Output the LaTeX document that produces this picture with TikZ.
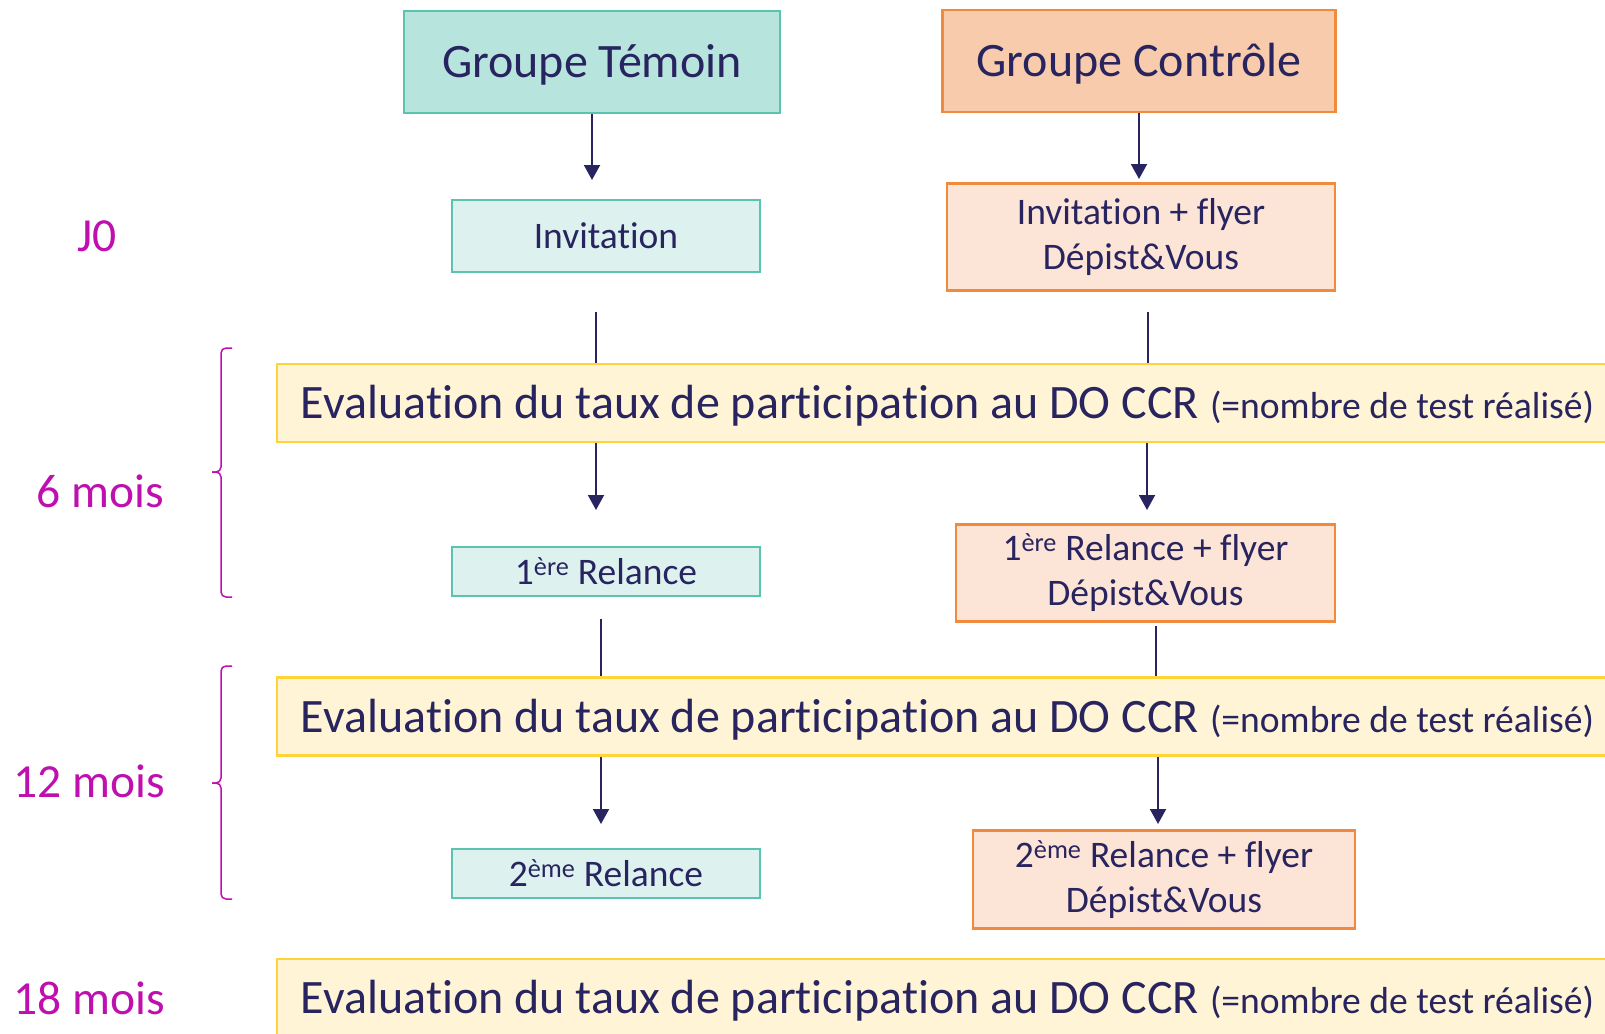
\documentclass[tikz,border=0pt]{standalone}
\usepackage{fontspec}
\setmainfont{Carlito}[Ligatures=NoCommon]
\usepackage{tikz}
\usetikzlibrary{arrows.meta}

\definecolor{navy}{HTML}{28245F}
\definecolor{mauve}{HTML}{BF10AF}
\definecolor{tline}{HTML}{5BC4B0}
\definecolor{tdark}{HTML}{B8E4DE}
\definecolor{tlight}{HTML}{DDF2EF}
\definecolor{cline}{HTML}{F28A3E}
\definecolor{cdark}{HTML}{F8CBAD}
\definecolor{clight}{HTML}{FCE4D6}
\definecolor{evalline}{HTML}{FFD43B}
\definecolor{evalfill}{HTML}{FFF5D6}

\newcommand{\evaltext}{Evaluation du taux de participation au DO CCR {\fontsize{37.6}{45}\selectfont(=nombre de test réalisé)}}

\begin{document}
\begin{tikzpicture}[x=1pt,y=-1pt,>={Triangle[width=16pt,length=15pt]},
  box node/.style={draw,line width=2.5pt,inner sep=0pt,align=center,text=navy},
  head node/.style={box node,minimum height=102pt,font=\fontsize{48}{57}\selectfont,
    text height=31pt,text depth=0pt},
  step node/.style={box node,font=\fontsize{37.5}{45}\selectfont},
  eval node/.style={box node,draw=evalline,fill=evalfill,minimum width=1341pt,
    minimum height=78pt,font=\fontsize{48}{58}\selectfont,text height=31pt,text depth=0pt},
  time node/.style={text=mauve,font=\fontsize{47.5}{57}\selectfont,anchor=base,inner sep=0pt},
  temoin/.style={draw=tline,fill=tlight},
  controle/.style={draw=cline,fill=clight},
  arrow/.style={->,line width=2pt,color=navy},
  link/.style={line width=1.2pt,color=navy}]

  \useasboundingbox (0,0) rectangle (1605,1033);

  \node[head node,temoin,fill=tdark,minimum width=376pt] (1) at (592,62) {Groupe Témoin};
  \node[head node,controle,fill=cdark,minimum width=393pt] (2) at (1139,61) {Groupe Contrôle};
  \node[step node,temoin,minimum width=308pt,minimum height=72pt] (3) at (606,236) {Invitation};
  \node[step node,controle,minimum width=388pt,minimum height=107pt] (4) at (1141,237) {Invitation + flyer\\Dépist\&Vous};
  \node[eval node] (5) at (947.5,403) {\evaltext};
  \node[step node,temoin,minimum width=308pt,minimum height=49pt] (6) at (606,571.5) {1\textsuperscript{ère} Relance};
  \node[step node,controle,minimum width=379pt,minimum height=97pt] (7) at (1145.5,573) {1\textsuperscript{ère} Relance + flyer\\Dépist\&Vous};
  \node[eval node] (8) at (947.5,716.5) {\evaltext};
  \node[step node,temoin,minimum width=308pt,minimum height=49pt] (9) at (606,873.5) {2\textsuperscript{ème} Relance};
  \node[step node,controle,minimum width=382pt,minimum height=98pt] (10) at (1164,879.5) {2\textsuperscript{ème} Relance + flyer\\Dépist\&Vous};
  \node[eval node] (11) at (947.5,998) {\evaltext};

  \node[time node] (12) at (97,251) {J0};
  \node[time node] (13) at (100,507) {6 mois};
  \node[time node] (14) at (89,797) {12 mois};
  \node[time node] (15) at (89,1014) {18 mois};

  % arrow ends and line starts
  \coordinate (a1) at (592,180);
  \coordinate (a2) at (1139,179);
  \coordinate (l3) at (596,312);
  \coordinate (l4) at (1148,312);
  \coordinate (a5l) at (596,510);
  \coordinate (a5r) at (1147,510);
  \coordinate (l6) at (601,619);
  \coordinate (l7) at (1156,626);
  \coordinate (a8l) at (601,824);
  \coordinate (a8r) at (1158,824);

  \path[arrow]
    (1) edge (a1)
    (2) edge (a2)
    (a5l |- 5.south) edge (a5l)
    (a5r |- 5.south) edge (a5r)
    (a8l |- 8.south) edge (a8l)
    (a8r |- 8.south) edge (a8r);
  \path[link]
    (l3) edge (l3 |- 5.north)
    (l4) edge (l4 |- 5.north)
    (l6) edge (l6 |- 8.north)
    (l7) edge (l7 |- 8.north);

  % braces
  \foreach \t/\m/\b in {348/472/597, 666/783/899} {
    \draw[mauve,line width=1.5pt,rounded corners=5pt] (232,\t) -- (221,\t) -- (221,\m) -- (212,\m);
    \draw[mauve,line width=1.5pt,rounded corners=5pt] (212,\m) -- (221,\m) -- (221,\b) -- (232,\b);
  }
\end{tikzpicture}
\end{document}
